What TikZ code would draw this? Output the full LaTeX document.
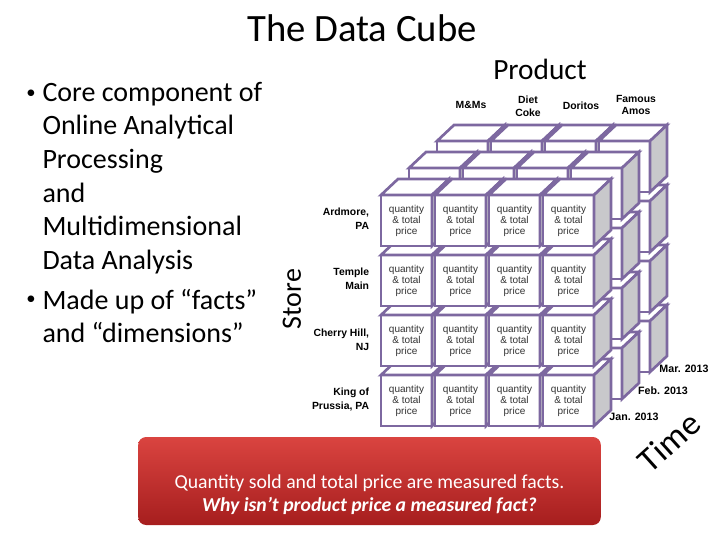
\documentclass[tikz,border=0pt]{standalone}
\usepackage{fontspec}
\setmainfont{Carlito}
\newfontfamily\cubefont{Liberation Sans}
\definecolor{cubeline}{RGB}{125,104,160}
\definecolor{cubeside}{RGB}{200,200,203}
\definecolor{boxtop}{RGB}{218,68,64}
\definecolor{boxbottom}{RGB}{166,30,30}
\tikzset{every picture/.style={line width=0.75pt}}
\tikzset{
  face/.style={draw=cubeline,line width=2pt,fill=white},
  sideface/.style={face,fill=cubeside},
  cell/.style={font=\cubefont\fontsize{7.5}{8.3}\selectfont,align=center,text=black!80},
  rowlab/.style={font=\cubefont\bfseries\fontsize{7.8}{10.5}\selectfont,align=right,anchor=east},
  collab/.style={font=\cubefont\bfseries\fontsize{7.8}{9.7}\selectfont,align=center},
  monthlab/.style={font=\cubefont\bfseries\fontsize{8}{10}\selectfont},
  bodytext/.style={font=\fontsize{21}{25.2}\selectfont,align=left,anchor=north west,inner sep=0pt},
  dot/.style={font=\fontsize{14}{16}\selectfont,inner sep=0pt},
  factbox/.style={rounded corners=6pt,top color=boxtop,bottom color=boxbottom,minimum width=347pt,minimum height=66pt},
  facttext/.style={text=white,font=\fontsize{14.8}{17.3}\selectfont,align=center}
}
% one small cube, front face top left at the origin
\newcommand{\datacube}{%
  \draw[face] (0,0) rectangle (51,51);
  \draw[face] (0,0) -- (17,-16) -- (68,-16) -- (51,0) -- cycle;
  \draw[sideface] (51,0) -- (68,-16) -- (68,35) -- (51,51) -- cycle;
}

\begin{document}
\begin{tikzpicture}[x=0.75pt,y=0.75pt,yscale=-1,xscale=1]
\useasboundingbox (0,0) rectangle (720,540);
\node[font=\fontsize{29}{34}\selectfont] (title) at (362,28) {The Data Cube};
\node[font=\fontsize{22}{26}\selectfont] (product) at (540,69) {Product};

% bullets
\node[dot] (b1) at (31,94) {•};
\node[bodytext] (core) at (42,81.5) {Core component of\\Online Analytical\\Processing\\and\\Multidimensional\\Data Analysis};
\node[dot] (b2) at (31,300) {•};
\node[bodytext] (made) at (42,288.5) {Made up of “facts”\\and “dimensions”};

% the cube: back layer first, bottom row first
\foreach \l in {2,1,0}
  \foreach \r in {3,2,1,0}
    \foreach \c in {0,1,2,3}
    {\begin{scope}[shift={(381+54*\c+28*\l,195+60*\r-27*\l)}]
      \datacube
    \end{scope}}
\foreach \r in {0,...,3}
  \foreach \c in {0,...,3}
    \node[cell] (cell\r\c) at (406.5+54*\c,220.5+60*\r) {quantity\\\& total\\price};

\node[collab] (mms) at (471,105) {M\&Ms};
\node[collab] (coke) at (528,106) {Diet\\Coke};
\node[collab] (doritos) at (581,106) {Doritos};
\node[collab] (amos) at (636,105) {Famous\\Amos};

\node[rowlab] (ardmore) at (374,219) {Ardmore,\\PA};
\node[rowlab] (temple) at (374,279) {Temple\\Main};
\node[rowlab] (cherry) at (374,340) {Cherry Hill,\\NJ};
\node[rowlab] (king) at (374,400) {King of\\Prussia, PA};
\node[rotate=90,font=\fontsize{21}{25}\selectfont] (store) at (292,299) {Store};

\node[monthlab] (mar) at (684,369) {Mar. 2013};
\node[monthlab] (feb) at (663,391) {Feb. 2013};
\node[monthlab] (jan) at (634,417) {Jan. 2013};
\node[rotate=42,inner sep=0pt,font=\fontsize{26}{30}\selectfont] (time) at (669,442) {Time};

\node[factbox] (box) at (369.5,481) {};
\node[facttext] (facts) at (369.5,495) {Quantity sold and total price are measured facts.\\\textbf{\textit{Why isn’t product price a measured fact?}}};
\end{tikzpicture}
\end{document}
